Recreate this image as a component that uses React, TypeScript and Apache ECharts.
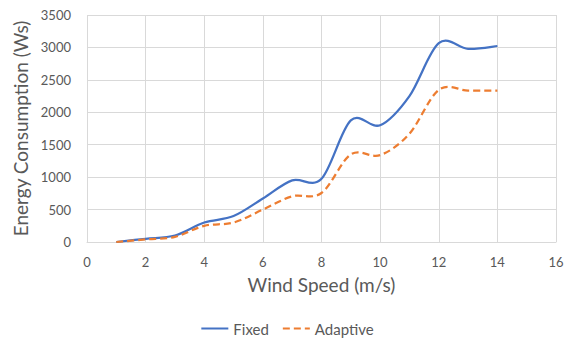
import React, { useEffect, useRef } from "react";
import * as echarts from "echarts";

const windSpeed = [1, 2, 3, 4, 5, 6, 7, 8, 9, 10, 11, 12, 13, 14];
const fixedEnergy = [0, 50, 100, 300, 400, 670, 950, 975, 1875, 1800, 2250, 3065, 2978, 3022];
const adaptiveEnergy = [0, 40, 80, 250, 300, 500, 705, 755, 1350, 1340, 1670, 2345, 2335, 2335];
const seriesNames = ["Fixed", "Adaptive"];
const xTitle = "Wind Speed (m/s)";
const yTitle = "Energy Consumption (Ws)";

const FONT = "Lato";
const TEXT = "#595959";
const GRID = "#d9d9d9";
const BLUE = "#4472C4";
const ORANGE = "#ED7D31";

// Excel-like smooth curve (uniform Catmull-Rom as cubic Bezier) through points placed by the axes
function smoothPath(pts: number[][]): string {
  const n = pts.length;
  if (!n) return "";
  let d = `M${pts[0][0]},${pts[0][1]}`;
  for (let i = 0; i < n - 1; i++) {
    const p0 = pts[Math.max(0, i - 1)];
    const p1 = pts[i];
    const p2 = pts[i + 1];
    const p3 = pts[Math.min(n - 1, i + 2)];
    const c1x = p1[0] + (p2[0] - p0[0]) / 6;
    const c1y = p1[1] + (p2[1] - p0[1]) / 6;
    const c2x = p2[0] - (p3[0] - p1[0]) / 6;
    const c2y = p2[1] - (p3[1] - p1[1]) / 6;
    d += ` C${c1x},${c1y} ${c2x},${c2y} ${p2[0]},${p2[1]}`;
  }
  return d;
}

function curveSeries(name: string, ys: number[], color: string, dash: number[] | null) {
  return {
    name,
    type: "custom",
    coordinateSystem: "cartesian2d",
    data: windSpeed.map((x, i) => [x, ys[i]]),
    encode: { x: 0, y: 1 },
    itemStyle: { color },
    clip: false,
    renderItem: (params: any, api: any) => {
      if (params.dataIndex !== 0) return null;
      const pts = windSpeed.map((x, i) => api.coord([x, ys[i]]));
      return {
        type: "path",
        shape: { pathData: smoothPath(pts) },
        style: {
          fill: "none",
          stroke: color,
          lineWidth: 2.25,
          lineDash: dash || undefined,
        },
      };
    },
  };
}

const solidIcon = "path://M0,0h27v2h-27z";
const dashedIcon = "path://M0,0h7v2h-7z M11,0h7v2h-7z M22,0h5v2h-5z";

export default function App() {
  const ref = useRef<HTMLDivElement>(null);
  useEffect(() => {
    if (!ref.current) return;
    const chart = echarts.init(ref.current, undefined, { renderer: "svg" });
    chart.setOption({
      animation: false,
      backgroundColor: "#ffffff",
      textStyle: { fontFamily: FONT, color: TEXT },
      grid: { left: 87, right: 19, top: 15, bottom: 104, containLabel: false },
      legend: {
        data: [
          { name: seriesNames[0], icon: solidIcon },
          { name: seriesNames[1], icon: dashedIcon },
        ],
        top: 316,
        left: "center",
        itemWidth: 27,
        itemHeight: 2.5,
        itemGap: 14,
        textStyle: { fontFamily: FONT, fontSize: 15, color: TEXT },
      },
      xAxis: {
        type: "value",
        min: 0,
        max: 16,
        interval: 2,
        name: xTitle,
        nameLocation: "middle",
        nameGap: 33,
        nameTextStyle: { fontFamily: FONT, fontSize: 19, color: TEXT },
        axisLine: { show: true, lineStyle: { color: GRID, width: 1 } },
        axisTick: { show: false },
        axisLabel: { margin: 13, fontFamily: FONT, fontSize: 13, color: TEXT },
        splitLine: { show: true, lineStyle: { color: GRID, width: 1 } },
      },
      yAxis: {
        type: "value",
        min: 0,
        max: 3500,
        interval: 500,
        name: yTitle,
        nameLocation: "middle",
        nameGap: 52,
        nameTextStyle: { fontFamily: FONT, fontSize: 19, color: TEXT },
        axisLine: { show: false },
        axisTick: { show: false },
        axisLabel: {
          margin: 16,
          fontFamily: FONT,
          fontSize: 13,
          color: TEXT,
          formatter: (v: number) => String(v),
        },
        splitLine: { show: true, lineStyle: { color: GRID, width: 1 } },
      },
      series: [
        curveSeries(seriesNames[0], fixedEnergy, BLUE, null),
        curveSeries(seriesNames[1], adaptiveEnergy, ORANGE, [7, 4]),
      ],
    });
    return () => chart.dispose();
  }, []);
  return <div ref={ref} style={{ width: 575, height: 346, position: "absolute", left: 0, top: 0 }} />;
}
